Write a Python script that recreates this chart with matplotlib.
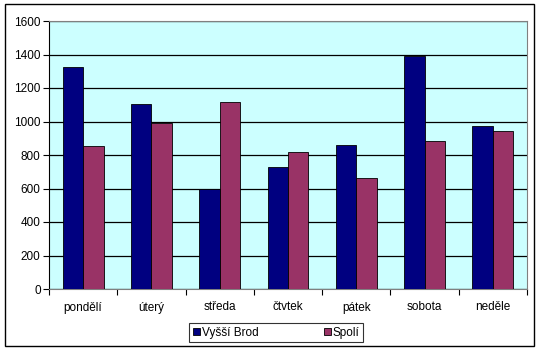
import numpy as np
import matplotlib as mpl
mpl.use('Agg')
import matplotlib.pyplot as plt
from matplotlib.patches import Rectangle

plt.rcParams['font.family'] = ['Liberation Sans', 'DejaVu Sans']

# data
days = ['pondělí', 'úterý', 'středa', 'čtvtek', 'pátek', 'sobota', 'neděle']
vyssi_brod = [1325, 1104, 595, 728, 861, 1393, 973]
spoli = [856, 991, 1116, 818, 661, 884, 943]
yticks = [0, 200, 400, 600, 800, 1000, 1200, 1400, 1600]

fig = plt.figure(figsize=(5.4, 3.5), dpi=100)
ax = fig.add_axes([49 / 540, 1 - 289 / 350, 478 / 540, 268 / 350])

# outer frame
fig.patches.append(Rectangle((5 / 540, 1 - 346 / 350), 529 / 540, 342 / 350,
                             transform=fig.transFigure, fill=False,
                             edgecolor='black', linewidth=1.0))

x = np.arange(len(days))
w = 0.3
ax.set_facecolor('#CCFFFF')
ax.bar(x - w / 2, vyssi_brod, w, color='#000080', edgecolor='black',
       linewidth=0.6, label='Vyšší Brod', zorder=3)
ax.bar(x + w / 2, spoli, w, color='#993366', edgecolor='black',
       linewidth=0.6, label='Spolí', zorder=3)

ax.set_xlim(-0.5, len(days) - 0.5)
ax.set_ylim(0, 1600)
ax.set_yticks(yticks)
ax.yaxis.grid(True, color='black', linewidth=0.9, zorder=1)
ax.set_axisbelow(True)

# category labels between boundary ticks
ax.set_xticks(np.arange(len(days) + 1) - 0.5)
ax.set_xticklabels([])
ax.set_xticks(x, minor=True)
ax.set_xticklabels(days, minor=True, fontsize=8.5)
ax.tick_params(axis='x', which='minor', length=0, pad=9)
ax.tick_params(axis='x', which='major', length=4, color='black', direction='out')
ax.tick_params(axis='y', labelsize=8.5, length=4, direction='out', pad=2)

for s in ['top', 'right']:
    ax.spines[s].set_color('#808080')
ax.spines['left'].set_color('black')
ax.spines['bottom'].set_color('#808080')

leg = ax.legend(loc='upper left', bbox_to_anchor=(189 / 540, 1 - 323 / 350),
                bbox_transform=fig.transFigure, borderaxespad=0, ncol=2,
                fontsize=8.5, frameon=True, fancybox=False, borderpad=0.3,
                handlelength=0.6, handleheight=0.6, handletextpad=0.2,
                columnspacing=5.5)
leg.get_frame().set_edgecolor('black')
leg.get_frame().set_linewidth(0.8)

plt.savefig('out.png', dpi=100)
